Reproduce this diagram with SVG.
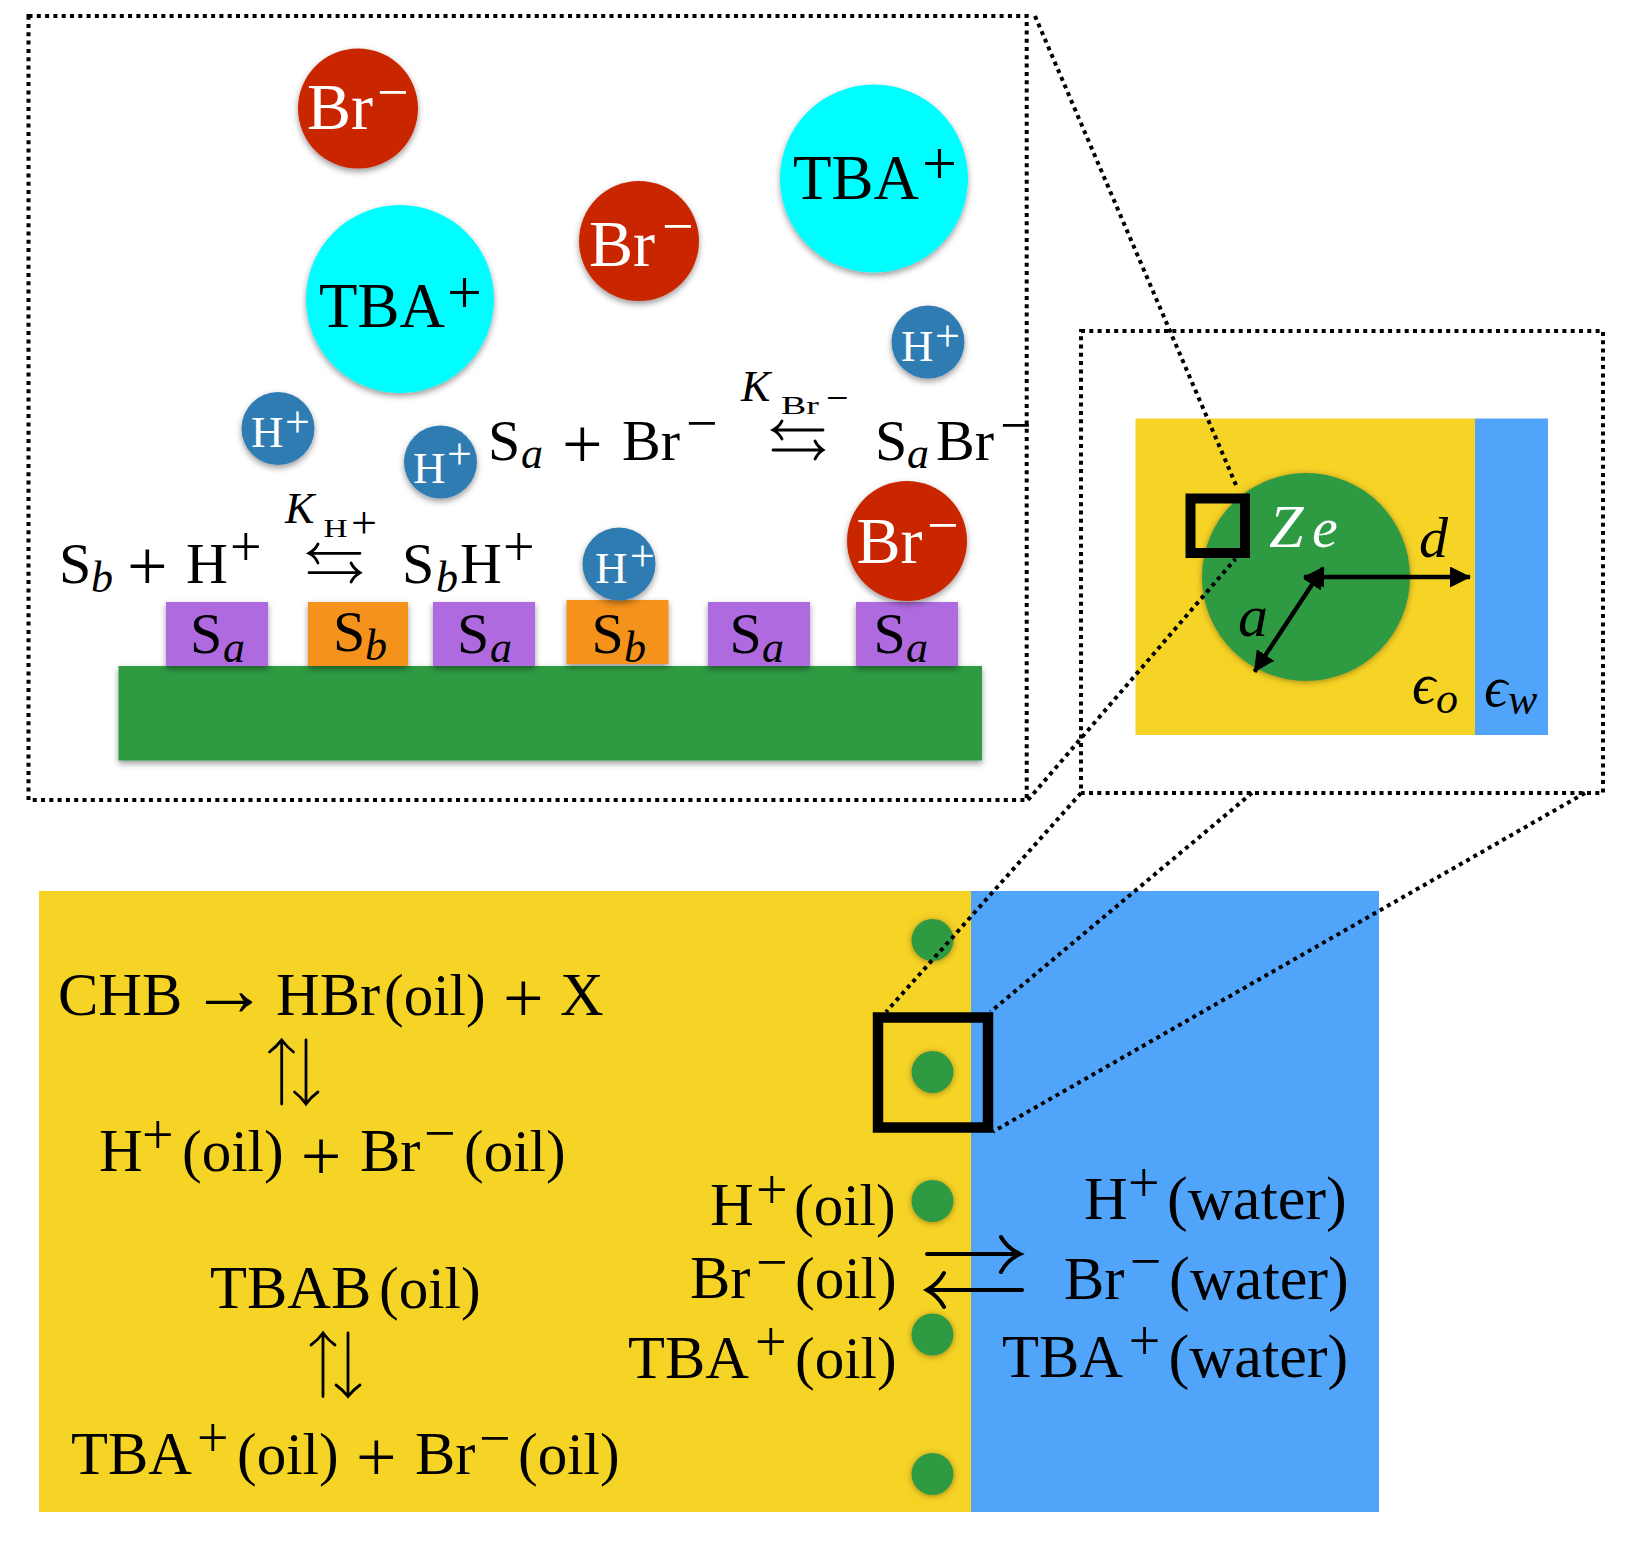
<svg xmlns="http://www.w3.org/2000/svg" width="1638" height="1544" viewBox="0 0 1638 1544">
<style>
text{font-family:"Liberation Serif","Times New Roman",serif;font-size:58px;fill:#000}
.w{fill:#fff}
.i{font-style:italic}
.s{font-size:56px}
.b{font-size:60.5px}
.p{font-size:59px}
.q{font-size:62.3px}
.big{font-size:72px}
.sub{font-size:44px;font-style:italic}
.k{font-size:44px;font-style:italic}
.ks{font-size:25px;font-style:normal}
.ksp{font-size:46px;font-style:normal}
.h{font-size:45px}
.hs{font-size:44px}
.br{font-size:66px}
.tba{font-size:63px}
.ts{font-size:62px}
.dot{fill:none;stroke:#000;stroke-width:4;stroke-dasharray:4 4.3}
.thin{fill:none;stroke:#000;stroke-width:2.8;stroke-linecap:round}
.thick{fill:none;stroke:#000;stroke-width:4;stroke-linecap:round}
.dim{fill:none;stroke:#000;stroke-width:4.3}
.red{fill:#c92804}.cyan{fill:#00fdff}.hion{fill:#2e7cb1}
.pur{fill:#af6ae0}.ora{fill:#f5921b}.grn{fill:#2f9a43}
.oil{fill:#f6d426}.wat{fill:#50a5fa}
</style>
<defs>
<filter id="shadow" x="-20%" y="-20%" width="140%" height="150%"><feDropShadow dx="0" dy="3" stdDeviation="3" flood-color="#000" flood-opacity=".4"/></filter>
<filter id="glow" x="-20%" y="-20%" width="140%" height="140%"><feDropShadow dx="0" dy="1" stdDeviation="3" flood-color="#5a3c00" flood-opacity=".55"/></filter>
<marker id="head" viewBox="0 0 21 21" refX="20" refY="10.5" markerUnits="userSpaceOnUse" markerWidth="21" markerHeight="21" orient="auto-start-reverse"><path d="M0 0L21 10.5L0 21z"/></marker>
</defs>

<g id="oil-water-panel">
<rect class="oil" x="39" y="891" width="932" height="621"/>
<rect class="wat" x="971" y="891" width="408" height="621"/>
<g filter="url(#glow)" class="grn">
<circle cx="932.5" cy="940" r="21"/><circle cx="932.5" cy="1072" r="21"/><circle cx="932.5" cy="1201" r="21"/><circle cx="932.5" cy="1334.5" r="21"/><circle cx="932.5" cy="1474" r="21"/>
</g>
</g>

<g id="droplet-panel">
<rect class="oil" x="1135.5" y="418.5" width="339.5" height="316.5"/>
<rect class="wat" x="1475" y="418.5" width="73" height="316.5"/>
<circle class="grn" cx="1306" cy="577" r="104" filter="url(#glow)"/>
</g>

<g id="surface-panel">
<rect class="grn" x="118.5" y="666" width="863.5" height="94.5" filter="url(#shadow)"/>
<g filter="url(#shadow)">
<rect class="pur" x="166" y="602" width="102" height="64"/>
<rect class="ora" x="308" y="602" width="100" height="64"/>
<rect class="pur" x="433" y="602" width="102" height="64"/>
<rect class="ora" x="566.5" y="600" width="102" height="64"/>
<rect class="pur" x="708" y="602" width="102" height="64"/>
<rect class="pur" x="856" y="602" width="102" height="64"/>
</g>
</g>

<g id="connectors">
<rect class="dot" x="28.5" y="16" width="998.2" height="784"/>
<rect class="dot" x="1081" y="331" width="522" height="462"/>
<path class="dot" d="M1035 16L1236 485M1028 800L1235.5 558.7M1081 793L886 1012M1252 793L990.6 1011.7M1585 793L993 1131.7"/>
<rect x="1190.5" y="498.5" width="54.5" height="54.5" fill="none" stroke="#000" stroke-width="10"/>
<rect x="878" y="1017.5" width="110" height="110" fill="none" stroke="#000" stroke-width="10.5"/>
<path class="dim" d="M1304 577H1470" marker-start="url(#head)" marker-end="url(#head)"/>
<path class="dim" d="M1323 568L1254.5 671.7" marker-start="url(#head)" marker-end="url(#head)"/>
<path class="thin" d="M823 430H773M782 421Q779 427 773 430Q779 433 782 439M773 450H823M815 441Q818 447 823 450Q818 453 815 459"/>
<path class="thin" d="M360 553.3H309M318 544Q315 550 309 553.3Q315 556 318 563M309 572.7H360M351 563Q354 569 360 572.7Q354 576 351 582"/>
<path class="thin" d="M281.7 1104V1040M269.5 1052Q276 1047 281.7 1040Q287 1047 293.5 1052M306 1040V1104M294.5 1092Q301 1097 306 1104Q311 1097 318 1092"/>
<path class="thin" d="M323 1396.5V1333M311 1345Q318 1340 323 1333Q328 1340 335 1345M348 1333V1396.5M336 1385Q343 1390 348 1396.5Q353 1390 360 1385"/>
<path class="thick" d="M927 1254H1019M1001 1237Q1007 1248 1020 1254Q1007 1260 1001 1272M1022 1290H928M944 1273Q938 1284 927 1290Q938 1296 944 1307"/>
</g>

<g id="ion-br-1"><circle class="red" cx="358" cy="108.5" r="60" filter="url(#shadow)"/>
<text class="w br" x="307" y="129">Br<tspan class="s w" x="377" y="111">−</tspan></text></g>
<g id="ion-tba-1"><circle class="cyan" cx="874" cy="178.5" r="94" filter="url(#shadow)"/>
<text class="tba" x="793" y="199">TBA<tspan class="ts" x="922" y="184">+</tspan></text></g>
<g id="ion-br-2"><circle class="red" cx="639" cy="241" r="60" filter="url(#shadow)"/>
<text class="w br" x="589" y="266">Br<tspan class="s w" x="662" y="244.5">−</tspan></text></g>
<g id="ion-tba-2"><circle class="cyan" cx="400" cy="299" r="94" filter="url(#shadow)"/>
<text class="tba" x="319" y="327">TBA<tspan class="ts" x="447" y="312.5">+</tspan></text></g>
<g id="ion-h-1"><circle class="hion" cx="928" cy="342" r="36.5" filter="url(#shadow)"/>
<text class="w h" x="901" y="361">H<tspan class="hs w" x="935" y="351">+</tspan></text></g>
<g id="ion-h-2"><circle class="hion" cx="278" cy="428.5" r="36.5" filter="url(#shadow)"/>
<text class="w h" x="251" y="447">H<tspan class="hs w" x="285" y="437">+</tspan></text></g>
<g id="ion-h-3"><circle class="hion" cx="440.5" cy="462" r="36.5" filter="url(#shadow)"/>
<text class="w h" x="413" y="483">H<tspan class="hs w" x="447" y="469">+</tspan></text></g>
<g id="ion-h-4"><circle class="hion" cx="619" cy="564" r="36.5" filter="url(#shadow)"/>
<text class="w h" x="595" y="583">H<tspan class="hs w" x="630" y="571">+</tspan></text></g>
<g id="ion-br-3"><circle class="red" cx="907" cy="541" r="60" filter="url(#shadow)"/>
<text class="w br" x="856.5" y="563">Br<tspan class="s w" x="927" y="544">−</tspan></text></g>

<g id="site-labels">
<text x="190" y="653">S<tspan class="sub" x="223" y="661.5">a</tspan></text>
<text x="333" y="650.5">S<tspan class="sub" x="365" y="660">b</tspan></text>
<text x="457" y="653">S<tspan class="sub" x="490" y="661.5">a</tspan></text>
<text x="591.5" y="653">S<tspan class="sub" x="624" y="661.5">b</tspan></text>
<text x="729.5" y="653">S<tspan class="sub" x="762" y="661.5">a</tspan></text>
<text x="873.5" y="653">S<tspan class="sub" x="906" y="661.5">a</tspan></text>
</g>

<g id="bromide-equilibrium">
<text x="488" y="460">S<tspan class="sub" x="521" y="468">a</tspan><tspan class="big" x="562" y="468">+</tspan><tspan x="622" y="460">Br</tspan><tspan class="s" x="686" y="442">−</tspan></text>
<text class="k" x="741" y="401">K<tspan class="ks" x="781" y="414.3" textLength="38" lengthAdjust="spacingAndGlyphs">Br</tspan><tspan style="font-size:40px;font-style:normal" x="826" y="411">−</tspan></text>
<text x="875" y="460">S<tspan class="sub" x="907" y="468">a</tspan><tspan x="936" y="460">Br</tspan><tspan class="s" x="1000" y="443.5">−</tspan></text>
</g>

<g id="proton-equilibrium">
<text x="59" y="582.7">S<tspan class="sub" x="91" y="591.7">b</tspan><tspan class="big" x="127" y="590">+</tspan><tspan x="186" y="582.7">H</tspan><tspan class="s" x="230" y="566">+</tspan></text>
<text class="k" x="285" y="523">K<tspan class="ks" x="323.5" y="536.7" textLength="24" lengthAdjust="spacingAndGlyphs">H</tspan><tspan class="ksp" x="351" y="537.5">+</tspan></text>
<text x="402" y="582.7">S<tspan class="sub" x="436" y="591.7">b</tspan><tspan x="460" y="582.7">H</tspan><tspan class="s" x="503" y="566">+</tspan></text>
</g>

<g id="droplet-labels">
<text class="w i" x="1269" y="546.7" style="font-size:62px">Z</text>
<text class="w i" x="1312" y="546.7">e</text>
<text class="i" x="1419" y="557">d</text>
<text class="i" x="1238" y="636" style="font-size:60px">a</text>
<text class="i" x="1412" y="703">ϵ<tspan class="sub" x="1436" y="712.7">o</tspan></text>
<text class="i" x="1484" y="705.7">ϵ<tspan class="sub" x="1508" y="714.3">w</tspan></text>
</g>

<g id="reaction-labels">
<text class="b" x="58" y="1015">CHB<tspan x="190" y="1015" style="font-size:78px">→</tspan><tspan x="276" y="1015">HBr</tspan><tspan class="p" x="384" y="1015">(oil)</tspan><tspan class="big" x="503" y="1022.3">+</tspan><tspan x="560" y="1015">X</tspan></text>
<text class="b" x="99" y="1170.7">H<tspan class="s" x="142" y="1153.7">+</tspan><tspan class="p" x="182" y="1170.7">(oil)</tspan><tspan class="big" x="300.7" y="1179.7">+</tspan><tspan x="360" y="1170.7">Br</tspan><tspan class="s" x="424" y="1152">−</tspan><tspan class="p" x="464" y="1170.7">(oil)</tspan></text>
<text class="b" x="210" y="1307.5">TBAB<tspan class="p" x="379" y="1307.5">(oil)</tspan></text>
<text class="b" x="71" y="1473.5">TBA<tspan class="s" x="197" y="1457">+</tspan><tspan class="p" x="237" y="1473.5">(oil)</tspan><tspan class="big" x="356" y="1480.6">+</tspan><tspan x="415" y="1473.5">Br</tspan><tspan class="s" x="479" y="1457">−</tspan><tspan class="p" x="518" y="1473.5">(oil)</tspan></text>
<text class="b" x="710" y="1224.5">H<tspan class="s" x="756" y="1208.7">+</tspan><tspan class="p" x="794" y="1224.5">(oil)</tspan></text>
<text class="b" x="690" y="1298">Br<tspan class="s" x="756" y="1280.7">−</tspan><tspan class="p" x="795" y="1298">(oil)</tspan></text>
<text class="b" x="628" y="1377.5">TBA<tspan class="s" x="755" y="1361">+</tspan><tspan class="p" x="795" y="1377.5">(oil)</tspan></text>
<text class="b" x="1084" y="1219">H<tspan class="s" x="1128" y="1202">+</tspan><tspan class="q" x="1167" y="1219">(water)</tspan></text>
<text class="b" x="1064" y="1299">Br<tspan class="s" x="1129.7" y="1280.3">−</tspan><tspan class="q" x="1169" y="1299">(water)</tspan></text>
<text class="b" x="1002" y="1376.7">TBA<tspan class="s" x="1128.7" y="1359.7">+</tspan><tspan class="q" x="1168.5" y="1376.7">(water)</tspan></text>
</g>
</svg>
